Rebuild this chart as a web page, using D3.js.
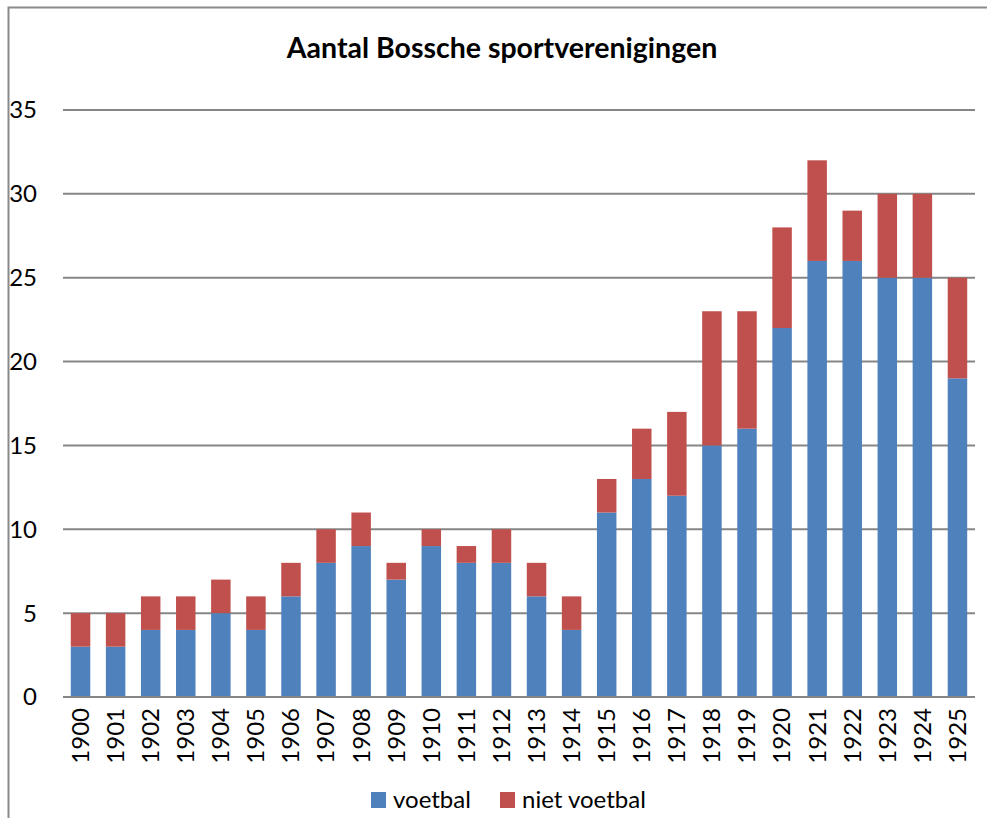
<!DOCTYPE html>
<html><head><meta charset="utf-8">
<script src="https://cdn.jsdelivr.net/npm/d3@7"></script>
<style>body{margin:0;background:#fff}svg{display:block}</style>
</head><body>
<script>
const years = ["1900","1901","1902","1903","1904","1905","1906","1907","1908","1909","1910","1911","1912","1913","1914","1915","1916","1917","1918","1919","1920","1921","1922","1923","1924","1925"];
const voetbal = [3,3,4,4,5,4,6,8,9,7,9,8,8,6,4,11,13,12,15,16,22,26,26,25,25,19];
const nietVoetbal = [2,2,2,2,2,2,2,2,2,1,1,1,2,2,2,2,3,5,8,7,6,6,3,5,5,6];
const seriesNames = ["voetbal","niet voetbal"];
const colors = ["#4F81BD","#C0504D"];
const yTicks = [0,5,10,15,20,25,30,35];
const title = "Aantal Bossche sportverenigingen";

const W = 987, H = 818;
const font = "Lato, 'Open Sans', sans-serif";
const fs = 24;
const svg = d3.select("body").append("svg").attr("width", W).attr("height", H);

// border
svg.append("path").attr("d", `M8.5,${H} V7.5 H${W}`).attr("fill","none").attr("stroke","#8a8a8a").attr("stroke-width",2);

const x = d3.scaleBand().domain(years).range([63, 975]).paddingInner(0.8/1.8).paddingOuter(0.4/1.8);
const y = d3.scaleLinear().domain([0,35]).range([697, 110]);

// gridlines
svg.append("g").selectAll("line").data(yTicks).join("line")
  .attr("x1", 63).attr("x2", 975)
  .attr("y1", d => y(d)).attr("y2", d => y(d))
  .attr("stroke", "#868686").attr("stroke-width", 2);

const table = years.map((yr,i) => ({year: yr, voetbal: voetbal[i], "niet voetbal": nietVoetbal[i]}));
const stack = d3.stack().keys(seriesNames)(table);

svg.append("g").selectAll("g").data(stack).join("g")
  .attr("fill", (d,i) => colors[i])
  .selectAll("rect").data(d => d).join("rect")
  .attr("x", d => x(d.data.year))
  .attr("width", x.bandwidth())
  .attr("y", d => y(d[1]))
  .attr("height", d => y(d[0]) - y(d[1]));

// baseline on top
svg.append("line").attr("x1",63).attr("x2",975).attr("y1",y(0)).attr("y2",y(0)).attr("stroke","#868686").attr("stroke-width",2);

// y labels
svg.append("g").selectAll("text").data(yTicks).join("text")
  .attr("x", 37).attr("y", d => y(d)).attr("dy","0.35em")
  .attr("text-anchor","end").attr("font-family", font).attr("font-size", fs).attr("fill","#000")
  .text(d => d);

// x labels
svg.append("g").selectAll("text").data(years).join("text")
  .attr("transform", d => `translate(${x(d)+x.bandwidth()/2},708) rotate(-90)`)
  .attr("dy","0.35em").attr("text-anchor","end")
  .attr("font-family", font).attr("font-size", fs).attr("fill","#000")
  .text(d => d);

// title
svg.append("text").attr("x", 502).attr("y", 58).attr("text-anchor","middle")
  .attr("font-family", font).attr("font-weight","bold").attr("font-size", 28.5).attr("fill","#000")
  .text(title);

// legend
const legX = [371, 500];
const lg = svg.append("g").selectAll("g").data(seriesNames).join("g")
  .attr("transform", (d,i) => `translate(${legX[i]},792)`);
lg.append("rect").attr("width",15).attr("height",16).attr("fill",(d,i)=>colors[i]);
lg.append("text").attr("x",22).attr("y",8).attr("dy","0.35em")
  .attr("font-family", font).attr("font-size", fs).attr("fill","#000").text(d=>d);
</script>
</body></html>
